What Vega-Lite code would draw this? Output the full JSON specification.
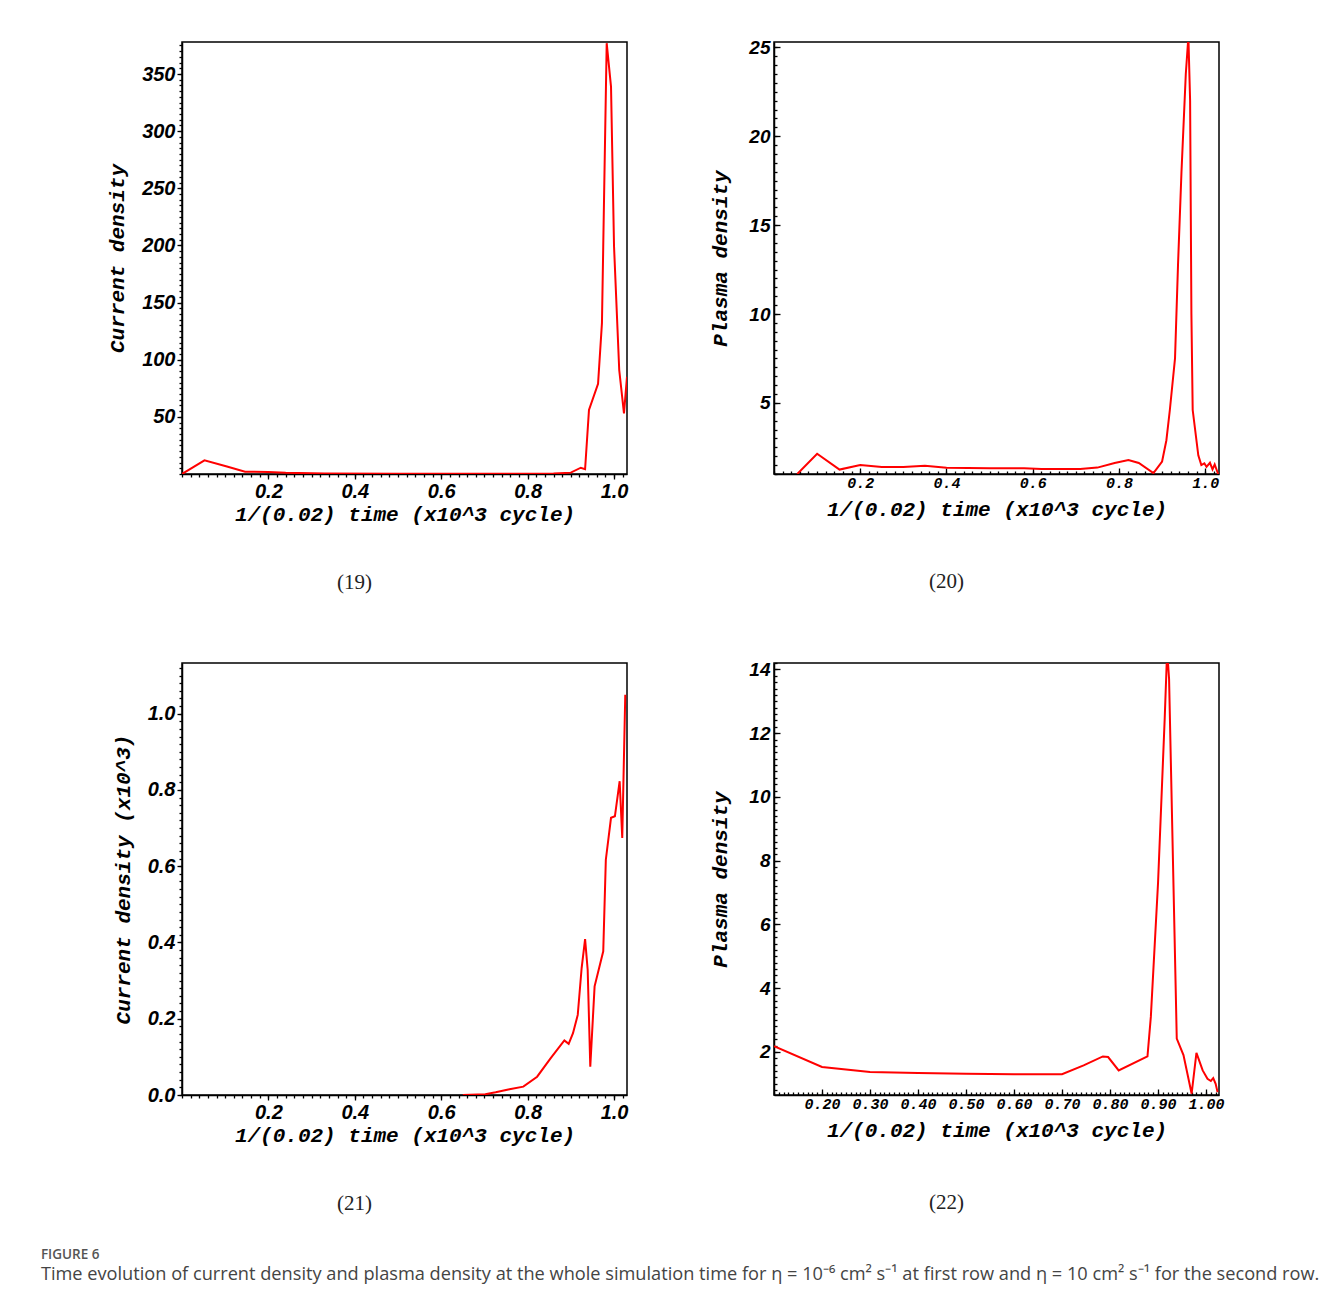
{
  "$schema": "https://vega.github.io/schema/vega-lite/v6.json",
  "background": "white",
  "padding": {"left": 40, "top": 35, "right": 5, "bottom": 5},
  "datasets": {
    "p19": [
      {"t": 0.0, "v": 0}, {"t": 0.052, "v": 12}, {"t": 0.104, "v": 6.5}, {"t": 0.146, "v": 2},
      {"t": 0.2, "v": 1.8}, {"t": 0.24, "v": 1.0}, {"t": 0.33, "v": 0.5}, {"t": 0.5, "v": 0.2},
      {"t": 0.7, "v": 0.2}, {"t": 0.86, "v": 0.4}, {"t": 0.9, "v": 1.2}, {"t": 0.923, "v": 5.5},
      {"t": 0.933, "v": 4.2}, {"t": 0.942, "v": 56}, {"t": 0.963, "v": 79}, {"t": 0.972, "v": 132},
      {"t": 0.975, "v": 199}, {"t": 0.983, "v": 377}, {"t": 0.993, "v": 339}, {"t": 1.0, "v": 199},
      {"t": 1.012, "v": 91}, {"t": 1.023, "v": 53}, {"t": 1.03, "v": 85}
    ],
    "p20": [
      {"t": 0.054, "v": 1.0}, {"t": 0.1, "v": 2.14}, {"t": 0.152, "v": 1.25}, {"t": 0.2, "v": 1.5},
      {"t": 0.25, "v": 1.4}, {"t": 0.3, "v": 1.4}, {"t": 0.35, "v": 1.47}, {"t": 0.4, "v": 1.35},
      {"t": 0.5, "v": 1.32}, {"t": 0.58, "v": 1.32}, {"t": 0.62, "v": 1.28}, {"t": 0.71, "v": 1.28},
      {"t": 0.75, "v": 1.36}, {"t": 0.79, "v": 1.62}, {"t": 0.822, "v": 1.79}, {"t": 0.846, "v": 1.62},
      {"t": 0.88, "v": 1.05}, {"t": 0.9, "v": 1.7}, {"t": 0.91, "v": 2.9}, {"t": 0.918, "v": 4.6},
      {"t": 0.93, "v": 7.5}, {"t": 0.937, "v": 12.8}, {"t": 0.945, "v": 18}, {"t": 0.955, "v": 23.5},
      {"t": 0.961, "v": 25.6}, {"t": 0.965, "v": 22}, {"t": 0.968, "v": 10}, {"t": 0.971, "v": 4.6},
      {"t": 0.984, "v": 2.05}, {"t": 0.991, "v": 1.5}, {"t": 0.998, "v": 1.6}, {"t": 1.003, "v": 1.4},
      {"t": 1.011, "v": 1.63}, {"t": 1.017, "v": 1.26}, {"t": 1.022, "v": 1.54}, {"t": 1.03, "v": 1.0}
    ],
    "p21": [
      {"t": 0.65, "v": 0.0}, {"t": 0.702, "v": 0.002}, {"t": 0.726, "v": 0.007}, {"t": 0.758, "v": 0.015},
      {"t": 0.79, "v": 0.022}, {"t": 0.822, "v": 0.048}, {"t": 0.853, "v": 0.096}, {"t": 0.885, "v": 0.143},
      {"t": 0.895, "v": 0.134}, {"t": 0.905, "v": 0.162}, {"t": 0.916, "v": 0.21}, {"t": 0.925, "v": 0.333},
      {"t": 0.933, "v": 0.409}, {"t": 0.939, "v": 0.328}, {"t": 0.945, "v": 0.074}, {"t": 0.955, "v": 0.285},
      {"t": 0.975, "v": 0.377}, {"t": 0.981, "v": 0.617}, {"t": 0.993, "v": 0.727}, {"t": 1.002, "v": 0.731},
      {"t": 1.013, "v": 0.823}, {"t": 1.019, "v": 0.674}, {"t": 1.026, "v": 1.05}
    ],
    "p22": [
      {"t": 0.1, "v": 2.18}, {"t": 0.2, "v": 1.53}, {"t": 0.3, "v": 1.37}, {"t": 0.4, "v": 1.34},
      {"t": 0.5, "v": 1.32}, {"t": 0.6, "v": 1.3}, {"t": 0.7, "v": 1.3}, {"t": 0.745, "v": 1.58},
      {"t": 0.785, "v": 1.86}, {"t": 0.796, "v": 1.84}, {"t": 0.818, "v": 1.42}, {"t": 0.878, "v": 1.86},
      {"t": 0.885, "v": 3.1}, {"t": 0.9, "v": 7.3}, {"t": 0.914, "v": 12.5}, {"t": 0.919, "v": 14.6},
      {"t": 0.923, "v": 13.7}, {"t": 0.939, "v": 2.42}, {"t": 0.953, "v": 1.9}, {"t": 0.97, "v": 0.69},
      {"t": 0.98, "v": 1.97}, {"t": 0.993, "v": 1.42}, {"t": 1.003, "v": 1.16}, {"t": 1.01, "v": 1.09},
      {"t": 1.015, "v": 1.18}, {"t": 1.02, "v": 1.0}, {"t": 1.024, "v": 0.74}
    ]
  },
  "title": {
    "text": "FIGURE 6",
    "subtitle": "Time evolution of current density and plasma density at the whole simulation time for η = 10⁻⁶ cm² s⁻¹ at first row and η = 10 cm² s⁻¹ for the second row.",
    "orient": "bottom",
    "anchor": "start",
    "frame": "bounds",
    "dx": -65,
    "offset": 33,
    "font": "Open Sans",
    "fontSize": 13.5,
    "fontWeight": 600,
    "color": "#555555",
    "subtitleFont": "Open Sans",
    "subtitleFontSize": 18.2,
    "subtitleColor": "#444444",
    "subtitlePadding": 5
  },
  "spacing": 55,
  "vconcat": [
    {
      "spacing": 80,
      "hconcat": [
        {
          "width": 445, "height": 432,
          "data": {"name": "p19"},
          "title": {"text": "(19)", "orient": "bottom", "anchor": "middle", "frame": "group", "dx": -50, "offset": 48, "font": "Liberation Serif", "fontSize": 21, "fontWeight": "normal", "color": "#222222"},
          "layer": [
            {
              "mark": {"type": "line", "color": "#ff0000", "strokeWidth": 2, "clip": true},
              "encoding": {
                "x": {"field": "t", "type": "quantitative", "scale": {"domain": [0, 1.03], "nice": false, "zero": false},
                  "axis": {"orient": "bottom", "values": [0.2, 0.4, 0.6, 0.8, 1.0], "format": ".1f", "title": "1/(0.02) time (x10^3 cycle)",
                    "labelFont": "Liberation Sans", "labelFontStyle": "italic", "labelFontWeight": "bold", "labelFontSize": 20, "labelPadding": 2,
                    "tickSize": 5, "titlePadding": 2}},
                "y": {"field": "v", "type": "quantitative", "scale": {"domain": [0, 378], "nice": false, "zero": false},
                  "axis": {"orient": "left", "values": [50, 100, 150, 200, 250, 300, 350], "format": "d", "title": "Current density",
                    "labelFont": "Liberation Sans", "labelFontStyle": "italic", "labelFontWeight": "bold", "labelFontSize": 20, "labelPadding": 2,
                    "tickSize": 5, "titlePadding": 14}}
              }
            },
            {
              "mark": {"type": "line", "strokeOpacity": 0},
              "encoding": {
                "x": {"field": "t", "type": "quantitative", "scale": {"domain": [0, 1.03], "nice": false, "zero": false},
                  "axis": {"orient": "bottom", "tickCount": 51, "labels": false, "title": null, "domain": false, "tickSize": 3}},
                "y": {"field": "v", "type": "quantitative", "scale": {"domain": [0, 378], "nice": false, "zero": false},
                  "axis": {"orient": "left", "tickCount": 76, "labels": false, "title": null, "domain": false, "tickSize": 3}}
              }
            }
          ],
          "resolve": {"axis": {"x": "independent", "y": "independent"}}
        },
        {
          "width": 445, "height": 432,
          "data": {"name": "p20"},
          "title": {"text": "(20)", "orient": "bottom", "anchor": "middle", "frame": "group", "dx": -50, "offset": 52, "font": "Liberation Serif", "fontSize": 21, "fontWeight": "normal", "color": "#222222"},
          "layer": [
            {
              "mark": {"type": "line", "color": "#ff0000", "strokeWidth": 2, "clip": true},
              "encoding": {
                "x": {"field": "t", "type": "quantitative", "scale": {"domain": [0, 1.032], "nice": false, "zero": false},
                  "axis": {"orient": "bottom", "values": [0.2, 0.4, 0.6, 0.8, 1.0], "format": ".1f", "title": "1/(0.02) time (x10^3 cycle)",
                    "labelFont": "Liberation Mono", "labelFontStyle": "italic", "labelFontWeight": "bold", "labelFontSize": 15, "labelPadding": 7,
                    "tickSize": -6, "titlePadding": 8}},
                "y": {"field": "v", "type": "quantitative", "scale": {"domain": [1.0, 25.3], "nice": false, "zero": false},
                  "axis": {"orient": "left", "values": [5, 10, 15, 20, 25], "format": "d", "title": "Plasma density",
                    "labelFont": "Liberation Sans", "labelFontStyle": "italic", "labelFontWeight": "bold", "labelFontSize": 19, "labelPadding": 10,
                    "tickSize": -6, "titlePadding": 18}}
              }
            },
            {
              "mark": {"type": "line", "strokeOpacity": 0},
              "encoding": {
                "x": {"field": "t", "type": "quantitative", "scale": {"domain": [0, 1.032], "nice": false, "zero": false},
                  "axis": {"orient": "bottom", "tickCount": 51, "labels": false, "title": null, "domain": false, "tickSize": -3}},
                "y": {"field": "v", "type": "quantitative", "scale": {"domain": [1.0, 25.3], "nice": false, "zero": false},
                  "axis": {"orient": "left", "tickCount": 48, "labels": false, "title": null, "domain": false, "tickSize": -3}}
              }
            }
          ],
          "resolve": {"axis": {"x": "independent", "y": "independent"}}
        }
      ]
    },
    {
      "spacing": 80,
      "hconcat": [
        {
          "width": 445, "height": 432,
          "data": {"name": "p21"},
          "title": {"text": "(21)", "orient": "bottom", "anchor": "middle", "frame": "group", "dx": -50, "offset": 48, "font": "Liberation Serif", "fontSize": 21, "fontWeight": "normal", "color": "#222222"},
          "layer": [
            {
              "mark": {"type": "line", "color": "#ff0000", "strokeWidth": 2, "clip": true},
              "encoding": {
                "x": {"field": "t", "type": "quantitative", "scale": {"domain": [0, 1.03], "nice": false, "zero": false},
                  "axis": {"orient": "bottom", "values": [0.2, 0.4, 0.6, 0.8, 1.0], "format": ".1f", "title": "1/(0.02) time (x10^3 cycle)",
                    "labelFont": "Liberation Sans", "labelFontStyle": "italic", "labelFontWeight": "bold", "labelFontSize": 20, "labelPadding": 2,
                    "tickSize": 5, "titlePadding": 2}},
                "y": {"field": "v", "type": "quantitative", "scale": {"domain": [0, 1.133], "nice": false, "zero": false},
                  "axis": {"orient": "left", "values": [0, 0.2, 0.4, 0.6, 0.8, 1.0], "format": ".1f", "title": "Current density (x10^3)",
                    "labelFont": "Liberation Sans", "labelFontStyle": "italic", "labelFontWeight": "bold", "labelFontSize": 20, "labelPadding": 2,
                    "tickSize": 5, "titlePadding": 14}}
              }
            },
            {
              "mark": {"type": "line", "strokeOpacity": 0},
              "encoding": {
                "x": {"field": "t", "type": "quantitative", "scale": {"domain": [0, 1.03], "nice": false, "zero": false},
                  "axis": {"orient": "bottom", "tickCount": 51, "labels": false, "title": null, "domain": false, "tickSize": 3}},
                "y": {"field": "v", "type": "quantitative", "scale": {"domain": [0, 1.133], "nice": false, "zero": false},
                  "axis": {"orient": "left", "tickCount": 56, "labels": false, "title": null, "domain": false, "tickSize": 3}}
              }
            }
          ],
          "resolve": {"axis": {"x": "independent", "y": "independent"}}
        },
        {
          "width": 445, "height": 432,
          "data": {"name": "p22"},
          "title": {"text": "(22)", "orient": "bottom", "anchor": "middle", "frame": "group", "dx": -50, "offset": 52, "font": "Liberation Serif", "fontSize": 21, "fontWeight": "normal", "color": "#222222"},
          "layer": [
            {
              "mark": {"type": "line", "color": "#ff0000", "strokeWidth": 2, "clip": true},
              "encoding": {
                "x": {"field": "t", "type": "quantitative", "scale": {"domain": [0.1, 1.027], "nice": false, "zero": false},
                  "axis": {"orient": "bottom", "values": [0.2, 0.3, 0.4, 0.5, 0.6, 0.7, 0.8, 0.9, 1.0], "format": ".2f", "title": "1/(0.02) time (x10^3 cycle)",
                    "labelFont": "Liberation Mono", "labelFontStyle": "italic", "labelFontWeight": "bold", "labelFontSize": 15, "labelPadding": 7,
                    "tickSize": -6, "titlePadding": 8}},
                "y": {"field": "v", "type": "quantitative", "scale": {"domain": [0.65, 14.2], "nice": false, "zero": false},
                  "axis": {"orient": "left", "values": [2, 4, 6, 8, 10, 12, 14], "format": "d", "title": "Plasma density",
                    "labelFont": "Liberation Sans", "labelFontStyle": "italic", "labelFontWeight": "bold", "labelFontSize": 19, "labelPadding": 10,
                    "tickSize": -6, "titlePadding": 18}}
              }
            },
            {
              "mark": {"type": "line", "strokeOpacity": 0},
              "encoding": {
                "x": {"field": "t", "type": "quantitative", "scale": {"domain": [0.1, 1.027], "nice": false, "zero": false},
                  "axis": {"orient": "bottom", "tickCount": 92, "labels": false, "title": null, "domain": false, "tickSize": -3}},
                "y": {"field": "v", "type": "quantitative", "scale": {"domain": [0.65, 14.2], "nice": false, "zero": false},
                  "axis": {"orient": "left", "tickCount": 67, "labels": false, "title": null, "domain": false, "tickSize": -3}}
              }
            }
          ],
          "resolve": {"axis": {"x": "independent", "y": "independent"}}
        }
      ]
    }
  ],
  "config": {
    "view": {"stroke": "black", "strokeWidth": 1.5},
    "axis": {
      "grid": false,
      "labelFlush": false,
      "labelOverlap": false,
      "domainColor": "black",
      "domainWidth": 1.5,
      "tickColor": "black",
      "tickWidth": 1.3,
      "labelColor": "black",
      "titleColor": "black",
      "titleFont": "Liberation Mono",
      "titleFontStyle": "italic",
      "titleFontWeight": "bold",
      "titleFontSize": 21
    }
  }
}
